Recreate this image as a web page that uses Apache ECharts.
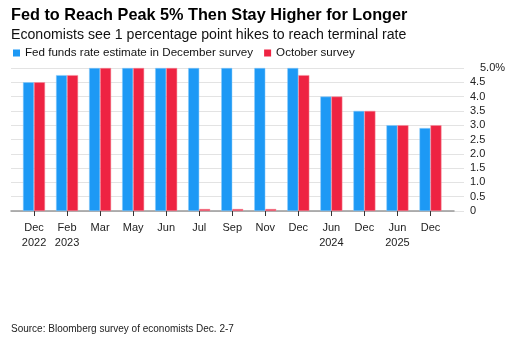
<!DOCTYPE html>
<html><head><meta charset="utf-8">
<script src="https://cdn.jsdelivr.net/npm/echarts@6/dist/echarts.min.js"></script>
<style>html,body{margin:0;padding:0;background:#fff}#c{width:515px;height:344px}</style>
</head><body><div id="c"></div>
<script>
const categories = ['Dec\n2022','Feb\n2023','Mar','May','Jun','Jul','Sep','Nov','Dec','Jun\n2024','Dec','Jun\n2025','Dec'];
const decemberSurvey = [4.5, 4.75, 5.0, 5.0, 5.0, 5.0, 5.0, 5.0, 5.0, 4.0, 3.5, 3.0, 2.9];
const octoberSurvey  = [4.5, 4.75, 5.0, 5.0, 5.0, 0, 0, 0, 4.75, 4.0, 3.5, 3.0, 3.0];
const yTicks = [0, 0.5, 1.0, 1.5, 2.0, 2.5, 3.0, 3.5, 4.0, 4.5, 5.0];

const FONT = '"Liberation Sans", Arial, Helvetica, sans-serif';
const chart = echarts.init(document.getElementById('c'));
chart.setOption({
  animation: false,
  textStyle: {fontFamily: FONT},
  title: [
    {text: 'Fed to Reach Peak 5% Then Stay Higher for Longer', left: 11, top: 8, padding: 0,
     textStyle: {fontSize: 16.25, fontWeight: 'bold', color: '#000', fontFamily: FONT}},
    {text: 'Economists see 1 percentage point hikes to reach terminal rate', left: 11, top: 28, padding: 0,
     textStyle: {fontSize: 14.15, fontWeight: 'normal', color: '#111', fontFamily: FONT}},
    {text: 'Source: Bloomberg survey of economists Dec. 2-7', left: 11, top: 324, padding: 0,
     textStyle: {fontSize: 10, fontWeight: 'normal', color: '#222', fontFamily: FONT}}
  ],
  legend: {
    left: 8, top: 42, itemWidth: 7, itemHeight: 7, itemGap: 11,
    icon: 'rect',
    itemStyle: {borderWidth: 0},
    textStyle: {fontSize: 11.6, color: '#111', padding: [0, 0, 0, 0]},
    data: ['Fed funds rate estimate in December survey', 'October survey']
  },
  grid: [
    {left: 11, right: 51, top: 68, bottom: 133},
    {left: 17.5, right: 68, top: 68, bottom: 133},
    {left: 11, right: 61, top: 68, bottom: 133}
  ],
  xAxis: [
    {gridIndex: 0, type: 'value', show: false, min: 0, max: 1},
    {gridIndex: 1, type: 'category', data: categories,
     axisLine: {show: false},
     axisTick: {show: true, alignWithLabel: true, length: 5, lineStyle: {color: '#333'}},
     axisLabel: {fontSize: 11, color: '#222', lineHeight: 15, margin: 9, interval: 0}},
    {gridIndex: 2, type: 'value', min: 0, max: 1, position: 'bottom',
     axisLine: {show: true, lineStyle: {color: '#999', width: 1.5}},
     axisTick: {show: false}, axisLabel: {show: false}, splitLine: {show: false}}
  ],
  yAxis: [
    {gridIndex: 0, type: 'value', position: 'right', min: 0, max: 5, interval: 0.5,
     axisLine: {show: false}, axisTick: {show: false},
     splitLine: {lineStyle: {color: '#e3e3e3', width: 1}},
     axisLabel: {align: 'left', margin: 6, fontSize: 11, color: '#222',
       formatter: v => {
         if (v === 5) return '{p|5.0%}';
         if (v === 0) return '0';
         return v.toFixed(1);
       },
       rich: {p: {fontSize: 11, color: '#222', padding: [0, 0, 0, 10]}}}},
    {gridIndex: 1, type: 'value', min: 0, max: 5, interval: 0.5, show: false},
    {gridIndex: 2, type: 'value', min: 0, max: 5, show: false}
  ],
  series: [
    {name: 'Fed funds rate estimate in December survey', type: 'bar', xAxisIndex: 1, yAxisIndex: 1,
     data: decemberSurvey, barWidth: 11, barGap: '0%', barMinHeight: 2,
     itemStyle: {color: '#1d99f5', borderColor: '#8cccfa', borderWidth: 0.5}},
    {name: 'October survey', type: 'bar', xAxisIndex: 1, yAxisIndex: 1,
     data: octoberSurvey, barWidth: 11, barGap: '0%', barMinHeight: 2,
     itemStyle: {color: '#ee2342', borderColor: '#f7909f', borderWidth: 0.5}}
  ]
});
</script></body></html>
